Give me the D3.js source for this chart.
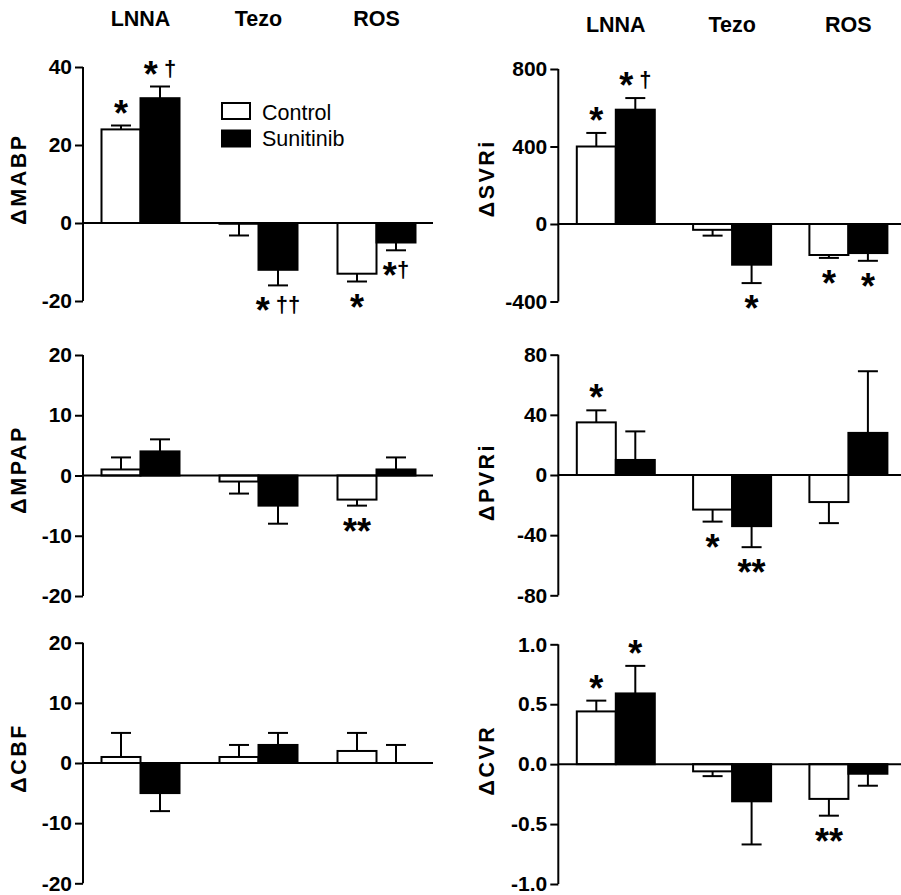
<!DOCTYPE html>
<html>
<head>
<meta charset="utf-8">
<script src="https://cdn.jsdelivr.net/npm/d3@7/dist/d3.min.js"></script>
<style>
  html, body { margin: 0; padding: 0; background: #fff; }
  svg { display: block; }
  text { font-family: "Liberation Sans", Arial, Helvetica, sans-serif; fill: #000; }
</style>
</head>
<body>
<svg id="chart" width="901" height="895"></svg>
<script>
// ---- data ----------------------------------------------------------------
const groups = ["LNNA", "Tezo", "ROS"];
const series = ["Control", "Sunitinib"];

const mabpControl = [24, -0.2, -13];
const mabpControlSem = [1, 3, 2];
const mabpSunitinib = [32, -12, -5];
const mabpSunitinibSem = [3, 4, 2];

const svriControl = [400, -30, -160];
const svriControlSem = [70, 30, 15];
const svriSunitinib = [590, -210, -150];
const svriSunitinibSem = [60, 95, 40];

const mpapControl = [1, -1, -4];
const mpapControlSem = [2, 2, 1];
const mpapSunitinib = [4, -5, 1];
const mpapSunitinibSem = [2, 3, 2];

const pvriControl = [35, -23, -18];
const pvriControlSem = [8, 8, 14];
const pvriSunitinib = [10, -34, 28];
const pvriSunitinibSem = [19, 14, 41];

const cbfControl = [1, 1, 2];
const cbfControlSem = [4, 2, 3];
const cbfSunitinib = [-5, 3, 0];
const cbfSunitinibSem = [3, 2, 3];

const cvrControl = [0.44, -0.06, -0.29];
const cvrControlSem = [0.09, 0.04, 0.14];
const cvrSunitinib = [0.59, -0.31, -0.08];
const cvrSunitinibSem = [0.23, 0.36, 0.10];

const mabpTicks = [-20, 0, 20, 40];
const svriTicks = [-400, 0, 400, 800];
const mpapTicks = [-20, -10, 0, 10, 20];
const pvriTicks = [-80, -40, 0, 40, 80];
const cbfTicks = [-20, -10, 0, 10, 20];
const cvrTicks = [-1, -0.5, 0, 0.5, 1];

// significance marks: * vs baseline, † vs control
const marks = [
  { panel: "MABP", group: "LNNA", series: "Control",   text: "*" },
  { panel: "MABP", group: "LNNA", series: "Sunitinib", text: "* †" },
  { panel: "MABP", group: "Tezo", series: "Sunitinib", text: "* ††" },
  { panel: "MABP", group: "ROS",  series: "Control",   text: "*" },
  { panel: "MABP", group: "ROS",  series: "Sunitinib", text: "*†" },
  { panel: "SVRi", group: "LNNA", series: "Control",   text: "*" },
  { panel: "SVRi", group: "LNNA", series: "Sunitinib", text: "* †" },
  { panel: "SVRi", group: "Tezo", series: "Sunitinib", text: "*" },
  { panel: "SVRi", group: "ROS",  series: "Control",   text: "*" },
  { panel: "SVRi", group: "ROS",  series: "Sunitinib", text: "*" },
  { panel: "MPAP", group: "ROS",  series: "Control",   text: "**" },
  { panel: "PVRi", group: "LNNA", series: "Control",   text: "*" },
  { panel: "PVRi", group: "Tezo", series: "Control",   text: "*" },
  { panel: "PVRi", group: "Tezo", series: "Sunitinib", text: "**" },
  { panel: "CVR",  group: "LNNA", series: "Control",   text: "*" },
  { panel: "CVR",  group: "LNNA", series: "Sunitinib", text: "*" },
  { panel: "CVR",  group: "ROS",  series: "Control",   text: "**" }
];

// ---- layout ----------------------------------------------------------------
const intFmt = v => String(v);
const oneDec = v => v.toFixed(1);

const columns = [
  { axisX: 83,    end: 433, step: 118,   labelX: 18.5, headerY: 26 },
  { axisX: 558.3, end: 906, step: 116.3, labelX: 486,  headerY: 32 }
];

const panels = [
  { key: "MABP", label: "ΔMABP", col: 0, domain: [-20, 40],   range: [301, 67],     ticks: mabpTicks, fmt: intFmt,
    values: [mabpControl, mabpSunitinib], sems: [mabpControlSem, mabpSunitinibSem], labelShift: -5, headers: true, legend: true },
  { key: "SVRi", label: "ΔSVRi", col: 1, domain: [-400, 800], range: [301.5, 69],   ticks: svriTicks, fmt: intFmt,
    values: [svriControl, svriSunitinib], sems: [svriControlSem, svriSunitinibSem], labelShift: -7, headers: true },
  { key: "MPAP", label: "ΔMPAP", col: 0, domain: [-20, 20],   range: [596, 355],    ticks: mpapTicks, fmt: intFmt,
    values: [mpapControl, mpapSunitinib], sems: [mpapControlSem, mpapSunitinibSem], labelShift: -6 },
  { key: "PVRi", label: "ΔPVRi", col: 1, domain: [-80, 80],   range: [595.3, 354.7], ticks: pvriTicks, fmt: intFmt,
    values: [pvriControl, pvriSunitinib], sems: [pvriControlSem, pvriSunitinibSem], labelShift: 7 },
  { key: "CBF",  label: "ΔCBF",  col: 0, domain: [-20, 20],   range: [883.3, 642.7], ticks: cbfTicks, fmt: intFmt,
    values: [cbfControl, cbfSunitinib], sems: [cbfControlSem, cbfSunitinibSem], labelShift: -5 },
  { key: "CVR",  label: "ΔCVR",  col: 1, domain: [-1, 1],     range: [884, 644.3],  ticks: cvrTicks, fmt: oneDec,
    values: [cvrControl, cvrSunitinib], sems: [cvrControlSem, cvrSunitinibSem], labelShift: -4 }
];

const svg = d3.select("#chart");
const fills = { Control: "#fff", Sunitinib: "#000" };
const LW = 2;
const capW = 20;

panels.forEach(p => {
  const c = columns[p.col];
  const bandW = 78;
  const pi = 1 - bandW / c.step;
  const firstStart = 57.5 - bandW / 2;
  const po = firstStart / c.step;

  const x = d3.scaleBand().domain(groups)
    .range([c.axisX, c.axisX + c.step * (groups.length - pi + 2 * po)])
    .paddingInner(pi).paddingOuter(po);
  const xs = d3.scaleBand().domain(series).range([0, x.bandwidth()]);
  const y = d3.scaleLinear().domain(p.domain).range(p.range);

  const g = svg.append("g").attr("class", "panel-" + p.key);

  const rows = [];
  groups.forEach((grp, gi) => series.forEach((s, si) => {
    rows.push({ group: grp, series: s, value: p.values[si][gi], sem: p.sems[si][gi] });
  }));
  const barX = d => x(d.group) + xs(d.series);
  const errEnd = d => d.value >= 0 ? d.value + d.sem : d.value - d.sem;

  // error bars (drawn outward from the bar end)
  const eb = g.append("g").attr("class", "errors")
    .attr("stroke", "#000").attr("stroke-width", LW).attr("fill", "none");
  rows.forEach(d => {
    const cx = barX(d) + xs.bandwidth() / 2;
    eb.append("line").attr("x1", cx).attr("x2", cx).attr("y1", y(d.value)).attr("y2", y(errEnd(d)));
    eb.append("line").attr("x1", cx - capW / 2).attr("x2", cx + capW / 2)
      .attr("y1", y(errEnd(d))).attr("y2", y(errEnd(d)));
  });

  // bars
  g.append("g").attr("class", "bars")
    .selectAll("rect").data(rows).join("rect")
    .attr("x", barX)
    .attr("width", xs.bandwidth())
    .attr("y", d => y(Math.max(0, d.value)))
    .attr("height", d => Math.abs(y(d.value) - y(0)))
    .attr("fill", d => fills[d.series])
    .attr("stroke", "#000")
    .attr("stroke-width", LW);

  // y axis
  const yAxis = d3.axisLeft(y).tickValues(p.ticks).tickFormat(p.fmt).tickSize(8).tickPadding(3);
  const ya = g.append("g").attr("transform", `translate(${c.axisX},0)`).call(yAxis);
  ya.select(".domain").attr("stroke-width", LW).attr("d", `M0,${p.range[0]}V${p.range[1]}`);
  ya.selectAll(".tick line").attr("stroke-width", LW);
  ya.selectAll(".tick text")
    .attr("font-size", 21).attr("font-weight", "bold")
    .style("font-family", '"Liberation Sans", Arial, sans-serif');

  // zero line (category axis)
  g.append("line")
    .attr("x1", c.axisX).attr("x2", c.end)
    .attr("y1", y(0)).attr("y2", y(0))
    .attr("stroke", "#000").attr("stroke-width", LW);

  // y label
  const ly = (p.range[0] + p.range[1]) / 2 + p.labelShift;
  g.append("text")
    .attr("transform", `translate(${c.labelX + 7.5},${ly}) rotate(-90)`)
    .attr("text-anchor", "middle")
    .attr("font-size", 21.5).attr("font-weight", "bold")
    .attr("letter-spacing", 2.5)
    .text(p.label);

  // group headers
  if (p.headers) {
    g.append("g").selectAll("text").data(groups).join("text")
      .attr("x", d => x(d) + x.bandwidth() / 2)
      .attr("y", c.headerY)
      .attr("text-anchor", "middle")
      .attr("font-size", 21.5).attr("font-weight", "bold")
      .text(d => d);
  }

  // significance marks
  marks.filter(m => m.panel === p.key).forEach(m => {
    const d = rows.find(r => r.group === m.group && r.series === m.series);
    const cx = barX(d) + xs.bandwidth() / 2;
    const up = d.value >= 0;
    const centerY = up ? y(errEnd(d)) - 21 : y(errEnd(d)) + 17;
    const t = g.append("text")
      .attr("x", cx).attr("y", centerY + 21)
      .attr("text-anchor", "middle").attr("font-weight", "bold");
    let level = "star";
    let pendingDx = 0;
    for (const ch of m.text) {
      if (ch === " ") { pendingDx += 6; continue; }
      const ts = t.append("tspan").text(ch);
      if (ch === "*") {
        ts.attr("font-size", 36);
        if (level === "dagger") ts.attr("dy", 11);
        level = "star";
      } else {
        ts.attr("font-size", 22);
        if (level === "star") ts.attr("dy", -11);
        level = "dagger";
      }
      if (pendingDx) { ts.attr("dx", pendingDx); pendingDx = 0; }
    }
  });

  // legend
  if (p.legend) {
    const lg = svg.append("g").attr("class", "legend");
    series.forEach((s, i) => {
      lg.append("rect")
        .attr("x", 222).attr("y", 103 + i * 27.5)
        .attr("width", 28).attr("height", 16)
        .attr("fill", fills[s]).attr("stroke", "#000").attr("stroke-width", LW);
      lg.append("text")
        .attr("x", 262).attr("y", 119.5 + i * 26.5)
        .attr("font-size", 21.5)
        .text(s);
    });
  }
});
</script>
</body>
</html>
